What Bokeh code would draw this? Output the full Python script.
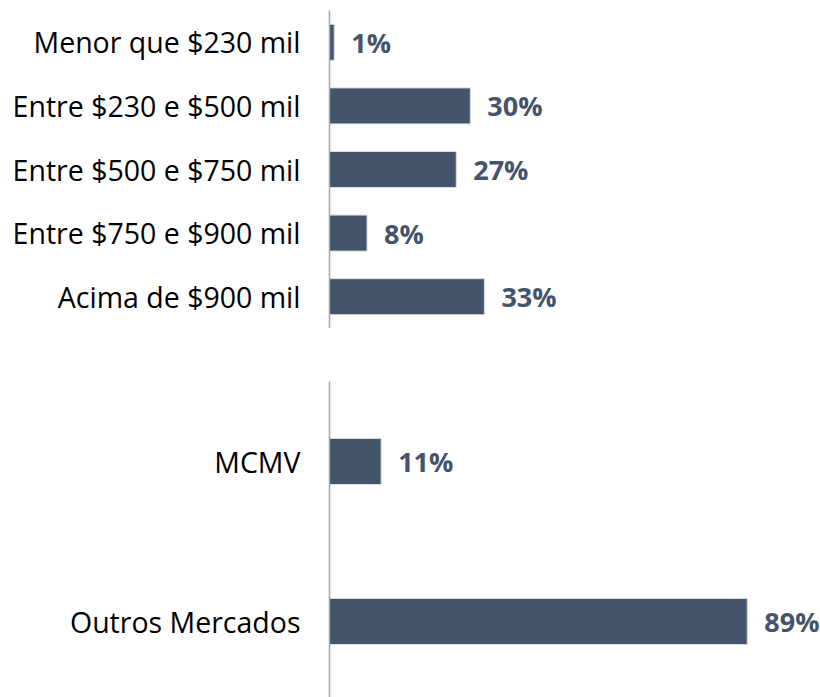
from bokeh.plotting import figure
from bokeh.layouts import column
from bokeh.models import Range1d, FixedTicker, ColumnDataSource
from bokeh.embed import file_html
from bokeh.resources import INLINE
from bokeh.core.properties import value

# ---- data ----
faixas = ["Menor que $230 mil", "Entre $230 e $500 mil", "Entre $500 e $750 mil",
          "Entre $750 e $900 mil", "Acima de $900 mil"]
faixas_pct = [1, 30, 27, 8, 33]

mercados = ["MCMV", "Outros Mercados"]
mercados_pct = [11, 89]

BAR = "#44546A"
AXIS = "#A6A6A6"
FONT = "Open Sans"
XMAX = 104.6


def make_panel(cats, vals, height, border_top, y_start, y_end, bar_h):
    idx = list(range(len(cats)))
    src = ColumnDataSource(dict(y=idx, v=vals, lbl=[f"{v}%" for v in vals]))
    p = figure(width=820, height=height, output_backend="svg", toolbar_location=None,
               x_range=Range1d(0, XMAX), y_range=Range1d(y_start, y_end),
               x_axis_location=None, min_border_left=329, min_border_right=0,
               min_border_top=border_top, min_border_bottom=0,
               background_fill_color="white", border_fill_color="white")
    p.outline_line_color = None
    p.grid.visible = False
    p.hbar(y="y", right="v", left=0, height=bar_h, source=src,
           fill_color=BAR, line_color="#D6DCE4", line_width=1)
    p.text(x="v", y="y", text="lbl", source=src, x_offset=17,
           text_baseline="middle", text_align="left",
           text_font=value(FONT), text_font_style="bold",
           text_font_size="27px", text_color=BAR)
    ax = p.yaxis[0]
    ax.ticker = FixedTicker(ticks=idx)
    ax.major_label_overrides = {i: c for i, c in zip(idx, cats)}
    ax.major_tick_line_color = None
    ax.minor_tick_line_color = None
    ax.axis_line_color = AXIS
    ax.axis_line_width = 1.5
    ax.major_label_standoff = 23
    ax.major_label_text_font = FONT
    ax.major_label_text_font_size = "28.5px"
    ax.major_label_text_color = "#000000"
    return p


p1 = make_panel(faixas, faixas_pct, 328, 10, len(faixas) - 0.5, -0.5, 0.566)
p2 = make_panel(mercados, mercados_pct, 369, 53, 1.475, -0.5, 0.2875)

layout = column(p1, p2, spacing=0)
open("out.html", "w").write(file_html(layout, INLINE))
